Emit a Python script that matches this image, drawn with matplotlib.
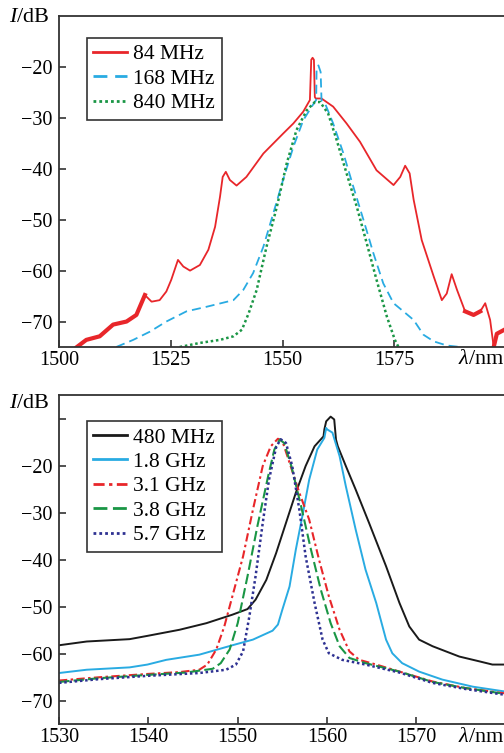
import matplotlib.pyplot as plt

plt.rcParams['font.family'] = 'Liberation Serif'
plt.rcParams['mathtext.fontset'] = 'custom'
plt.rcParams['mathtext.rm'] = 'Liberation Serif'
plt.rcParams['mathtext.it'] = 'Liberation Serif:italic'

# ---- top panel: 84 / 168 / 840 MHz ----
wl_84 = [1504, 1506.1, 1509.1, 1512.1, 1515.1, 1517.3, 1519.2, 1520.7, 1522.5, 1524,
         1525.1, 1526.6, 1527.8, 1529.3, 1531.5, 1533.4, 1534.9, 1536, 1536.6, 1537.3,
         1538.2, 1539.7, 1541.9, 1545.7, 1550.1, 1552.4, 1554.6, 1556.1, 1556.4, 1556.7,
         1557.0, 1557.2, 1557.4, 1558.7, 1561.3, 1564.3, 1567.3, 1571, 1574.8, 1576.3,
         1577.4, 1578.4, 1579.3, 1581.1, 1583.8, 1585.6, 1586.7, 1587.8, 1589, 1590.8,
         1592.7, 1594.2, 1595.3, 1596.4, 1597.2, 1597.9, 1599.6]
db_84 = [-75, -73.6, -72.9, -70.6, -70, -68.7, -64.8, -66.1, -65.8, -64.1,
         -61.8, -57.9, -59.2, -60, -58.9, -55.9, -51.4, -45.5, -41.6, -40.6,
         -42.2, -43.3, -41.6, -37, -33.1, -31.1, -28.8, -26.5, -18.6, -18.2,
         -18.6, -25.9, -26.2, -26.2, -27.8, -31.1, -34.7, -40.3, -43.2, -41.6,
         -39.4, -40.9, -46.1, -54, -61.2, -65.8, -64.5, -60.7, -63.8, -68,
         -68.7, -68, -66.4, -69.7, -75, -72.4, -71.6]
# noisy stretches of the 84 MHz trace (drawn thicker)
noisy_ranges = [(1504, 1520.5), (1590.5, 1594.5), (1596.8, 1599.6)]

wl_168 = [1512.8, 1516.6, 1520.3, 1524, 1528.5, 1533, 1539, 1541.2, 1543.4, 1545.7,
          1547.9, 1550.1, 1552.4, 1554.6, 1556.5, 1557.5, 1557.6, 1558, 1558.5, 1558.7,
          1559.5, 1561.3, 1563.6, 1565.8, 1568.1, 1570.3, 1572.5, 1574.8, 1577, 1579.3,
          1581.5, 1583.8, 1586.7, 1589.7]
db_168 = [-75, -73.6, -72, -70, -68, -67.1, -65.8, -63.8, -60.5, -55.3,
          -48.8, -42.2, -35.7, -30.5, -27.8, -26.5, -20.3, -19.7, -21, -26.6,
          -27.2, -31.1, -37, -43.5, -50.1, -56.6, -62.5, -66.4, -68, -69.7,
          -72.6, -73.9, -74.7, -75]

wl_840 = [1527, 1531.5, 1536, 1539, 1540.9, 1542.4, 1544.2, 1546.4, 1548.7, 1550.9,
          1553.1, 1555.4, 1557.2, 1558.4, 1560.2, 1562.1, 1564.3, 1566.6, 1568.8, 1571,
          1573.3, 1575.1, 1575.9]
db_840 = [-75, -74.2, -73.6, -72.9, -71.6, -68.4, -63.8, -55.3, -47.5, -39,
          -32.4, -28.5, -26.9, -26.9, -29.2, -34.4, -40.9, -47.5, -54.6, -61.8,
          -69, -73.6, -75]

# ---- bottom panel: 480 MHz .. 5.7 GHz ----
wl_480 = [1530, 1533.1, 1537.9, 1539.9, 1543.5, 1546.5, 1549.4, 1551.1, 1552, 1553.2,
          1554.3, 1555.4, 1556.5, 1557.6, 1558.6, 1559.6, 1559.7, 1559.9, 1560.4, 1560.8,
          1561, 1561.2, 1562.1, 1563.2, 1564.7, 1566.6, 1568.1, 1569.2, 1570.3, 1571.8,
          1574.8, 1577, 1578.5, 1579.8]
db_480 = [-58.2, -57.4, -56.9, -56.2, -54.9, -53.5, -51.7, -50.5, -48.5, -44.3,
          -38.6, -32.2, -25.8, -20.1, -15.9, -13.8, -12.3, -10.6, -9.6, -10.2,
          -14.5, -15.9, -20.1, -25.1, -32.2, -41.4, -49.2, -54.2, -57, -58.4,
          -60.6, -61.6, -62.3, -62.3]

wl_1g8 = [1530, 1533.1, 1537.9, 1539.9, 1542, 1545.7, 1549.4, 1551.7, 1553.9, 1554.5,
          1555, 1555.8, 1556.5, 1557.3, 1558, 1558.9, 1559.7, 1559.9, 1560, 1560.6,
          1561.4, 1562.1, 1563.2, 1564.3, 1565.5, 1566.6, 1567.3, 1568.4, 1570.3, 1572.9,
          1576.3, 1579.8]
db_1g8 = [-64.1, -63.4, -62.9, -62.3, -61.3, -60.2, -58.2, -57, -55.1, -53.8,
          -50.6, -45.7, -37.9, -30.1, -23, -16.6, -14.1, -12, -12.3, -13,
          -18, -24.4, -33.6, -42.1, -49.2, -57, -59.9, -62, -63.8, -65.5,
          -67, -68]

wl_3g1 = [1530, 1534.5, 1539.9, 1543.5, 1545.7, 1546.6, 1547.6, 1548.5, 1549.4, 1550.6,
          1551.7, 1552.8, 1553.7, 1554.5, 1555, 1555.8, 1556.9, 1558, 1559.1, 1560.2,
          1561.4, 1562.5, 1563.6, 1565.5, 1568.1, 1571.8, 1575.5, 1579.8]
db_3g1 = [-65.7, -65, -64.3, -63.9, -63.4, -62.3, -59.1, -54.2, -47.8, -39.3,
          -29.4, -20.1, -15.9, -14.3, -14.8, -19.4, -25.8, -31.5, -40, -47.8,
          -54.9, -59.5, -61.3, -62.3, -63.8, -65.9, -67.3, -68.4]

wl_3g8 = [1530, 1534.5, 1539.9, 1544.2, 1547.2, 1548.1, 1549.1, 1550, 1551.1, 1552.2,
          1553.4, 1554.1, 1554.7, 1555.2, 1556, 1557.1, 1558.2, 1559.3, 1560.4, 1561.4,
          1562.5, 1564.3, 1568.1, 1571.8, 1575.5, 1579.8]
db_3g8 = [-66, -65.2, -64.5, -64, -63.2, -62, -59.1, -53.5, -43.5, -32.9,
          -22.3, -16.6, -14.5, -15.2, -20.1, -28.7, -37.9, -46.4, -53.5, -58.4,
          -60.9, -62, -63.8, -66, -67.3, -68.5]

wl_5g7 = [1530, 1534.5, 1539.9, 1545.7, 1548.7, 1549.8, 1550.6, 1551.3, 1552, 1552.8,
          1553.5, 1554.3, 1554.8, 1555.4, 1556.1, 1556.9, 1557.6, 1558.6, 1559.5, 1560.2,
          1561.7, 1564.3, 1568.1, 1571.8, 1575.5, 1579.8]
db_5g7 = [-66.2, -65.4, -64.7, -64.1, -63.4, -62.3, -59.5, -52.1, -43.5, -32.2,
          -23, -16.1, -14.4, -15.2, -20.1, -29.4, -39.3, -49.2, -57, -59.9,
          -61.3, -62.3, -64, -66.2, -67.5, -68.7]

top_xticks = [1500, 1525, 1550, 1575]
bot_xticks = [1530, 1540, 1550, 1560, 1570]
yticks = [-70, -60, -50, -40, -30, -20]

fig = plt.figure(figsize=(5.04, 7.53), dpi=100)
W, H = 504, 753
ax1 = fig.add_axes([59 / W, 1 - 347 / H, 445 / W, 331 / H])
ax2 = fig.add_axes([59 / W, 1 - 724.3 / H, 445 / W, 329.3 / H])

red = '#e8262a'
lblue = '#29abe2'

ax1.plot(wl_84, db_84, color=red, lw=1.3, label='84 MHz')
for a, b in noisy_ranges:
    seg = [(x, y) for x, y in zip(wl_84, db_84) if a <= x <= b]
    ax1.plot([p[0] for p in seg], [p[1] for p in seg], color=red, lw=3.0)
ax1.plot(wl_168, db_168, color=lblue, lw=1.3, dashes=(5, 2.8), label='168 MHz')
ax1.plot(wl_840, db_840, color='#1a9645', lw=1.8, dashes=(1, 1.1), label='840 MHz')

ax2.plot(wl_480, db_480, color='#1a1a1a', lw=1.4, label='480 MHz')
ax2.plot(wl_1g8, db_1g8, color=lblue, lw=1.4, label='1.8 GHz')
ax2.plot(wl_3g1, db_3g1, color=red, lw=1.5, dashes=(4, 1.6, 1.2, 1.6), label='3.1 GHz')
ax2.plot(wl_3g8, db_3g8, color='#1a9645', lw=1.5, dashes=(5, 2), label='3.8 GHz')
ax2.plot(wl_5g7, db_5g7, color='#2e3192', lw=1.8, dashes=(1, 1.1), label='5.7 GHz')

for ax, xt, xl, yl in ((ax1, top_xticks, (1500, 1599.5), (-75, -10)),
                       (ax2, bot_xticks, (1530, 1579.8), (-75, -5))):
    ax.set_xlim(*xl)
    ax.set_ylim(*yl)
    ax.set_xticks(xt)
    ax.spines['right'].set_visible(False)
    for s in ('left', 'top', 'bottom'):
        ax.spines[s].set_color('#333333')
        ax.spines[s].set_linewidth(1.3)
    ax.tick_params(direction='in', length=5, width=1.2, color='#333333',
                   labelsize=14.5, top=False, right=False)
    ax.tick_params(axis='y', pad=5)
    ax.tick_params(axis='x', pad=3)
    leg = ax.legend(loc='upper left', bbox_to_anchor=(0.063, 0.934 if ax is ax1 else 0.921),
                    borderaxespad=0, fontsize=15.5, handlelength=1.55, handletextpad=0.3,
                    labelspacing=0.2, borderpad=0.3, fancybox=False, framealpha=1)
    leg.get_frame().set_edgecolor('#333333')
    leg.get_frame().set_linewidth(1.2)
    for h in leg.get_lines():
        h.set_linewidth(2.0)

ax1.set_yticks(yticks)
ax2.set_yticks(yticks + [-10])
ax2.set_yticklabels([f'\u2212{abs(v)}' for v in yticks] + [''])

fig.text(9 / W, 1 - 17 / H, '$I$/dB', fontsize=16, va='center', ha='left')
fig.text(9 / W, 1 - 403 / H, '$I$/dB', fontsize=16, va='center', ha='left')
fig.text(504 / W, 1 - 360 / H, r'$\lambda$/nm', fontsize=16, va='center', ha='right')
fig.text(504 / W, 1 - 738 / H, r'$\lambda$/nm', fontsize=16, va='center', ha='right')

fig.savefig('out.png', dpi=100)
